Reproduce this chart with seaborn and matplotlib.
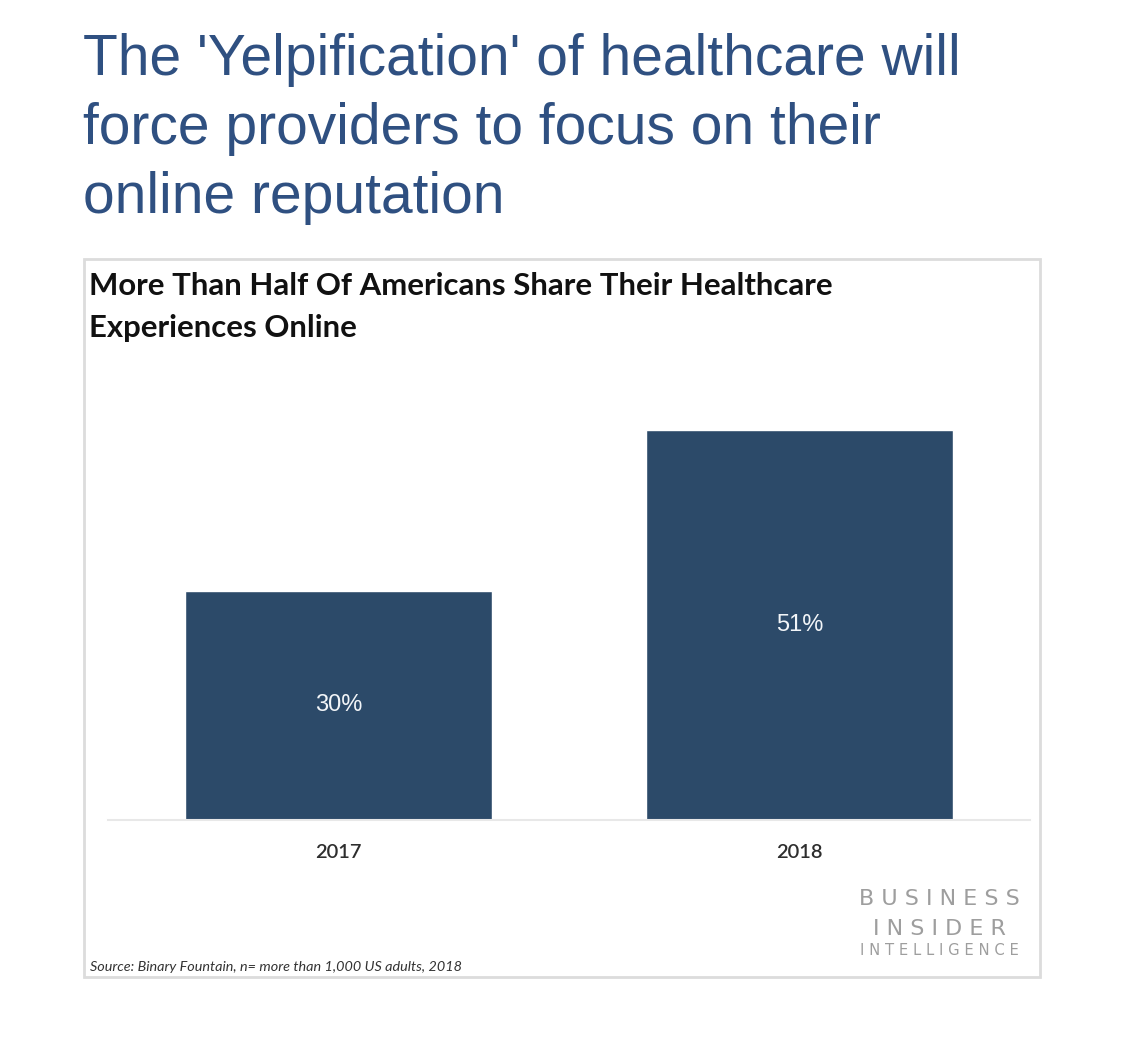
import matplotlib

matplotlib.use("Agg")
import matplotlib.pyplot as plt
from matplotlib.patches import Rectangle
import pandas as pd
import seaborn as sns

# data
years = ["2017", "2018"]
share_online = [30, 51]

headline_lines = [
    "The 'Yelpification' of healthcare will",
    "force providers to focus on their",
    "online reputation",
]
chart_title_lines = [
    "More Than Half Of Americans Share Their Healthcare",
    "Experiences Online",
]
source_note = "Source: Binary Fountain, n= more than 1,000 US adults, 2018"
logo_lines = ["BUSINESS", "INSIDER", "INTELLIGENCE"]

W, H = 1125, 1038
BAR_COLOR = "#2c4a69"
HEAD_COLOR = "#2f5081"


def fx(px):
    return px / W


def fy(py):
    return 1 - py / H


sns.set_theme(style="white")
plt.rcParams["font.family"] = ["Liberation Sans", "DejaVu Sans"]

fig = plt.figure(figsize=(W / 100, H / 100), dpi=100)
fig.patch.set_facecolor("white")

# headline
for i, line in enumerate(headline_lines):
    fig.text(fx(83), fy(75 + 69 * i), line, fontsize=41, color=HEAD_COLOR,
             va="baseline", ha="left", family=["Liberation Sans", "DejaVu Sans"])

# chart frame
fig.patches.append(Rectangle((fx(84), fy(977)), fx(1040) - fx(84), fy(259) - fy(977),
                             transform=fig.transFigure, fill=False,
                             edgecolor="#dcdcdc", linewidth=2.0, zorder=0))

for i, line in enumerate(chart_title_lines):
    fig.text(fx(89), fy(295 + 42 * i), line, fontsize=22.4, fontweight="bold",
             color="#111111", va="baseline", ha="left", family=["Lato", "DejaVu Sans"])

# bars
df = pd.DataFrame({"year": years, "share": share_online})
ax = fig.add_axes([fx(108), fy(820), fx(1030) - fx(108), fy(361.6) - fy(820)])
sns.barplot(data=df, x="year", y="share", color=BAR_COLOR, width=0.664,
            saturation=1, ax=ax)
ax.set_xlim(-0.5, 1.5)
ax.set_ylim(0, 60)
ax.bar_label(ax.containers[0], labels=[f"{v}%" for v in share_online],
             label_type="center", color="#f2f5f8", fontsize=17,
             family=["Liberation Sans", "DejaVu Sans"])
ax.set_xlabel("")
ax.set_ylabel("")
ax.set_yticks([])
ax.tick_params(axis="x", length=0, pad=17, labelsize=14.5, labelcolor="#2e2e2e")
for lab in ax.get_xticklabels():
    lab.set_family(["Lato", "DejaVu Sans"])
    lab.set_fontweight("semibold")
for side in ["top", "left", "right"]:
    ax.spines[side].set_visible(False)
ax.spines["bottom"].set_color("#e8e8e8")
ax.spines["bottom"].set_linewidth(1.5)
ax.patch.set_alpha(0)

# logo
logo_sizes = [16, 16, 10.6]
logo_y = [905, 935, 955]
for text, size, y in zip(logo_lines, logo_sizes, logo_y):
    fig.text(fx(939), fy(y), " ".join(text), fontsize=size, color="#9e9e9e",
             ha="center", va="baseline", family=["DejaVu Sans"])

fig.text(fx(90), fy(971), source_note, fontsize=10.4, style="italic",
         color="#333333", ha="left", va="baseline", family=["Lato", "DejaVu Sans"])

fig.savefig("out.png", dpi=100)
plt.close(fig)
